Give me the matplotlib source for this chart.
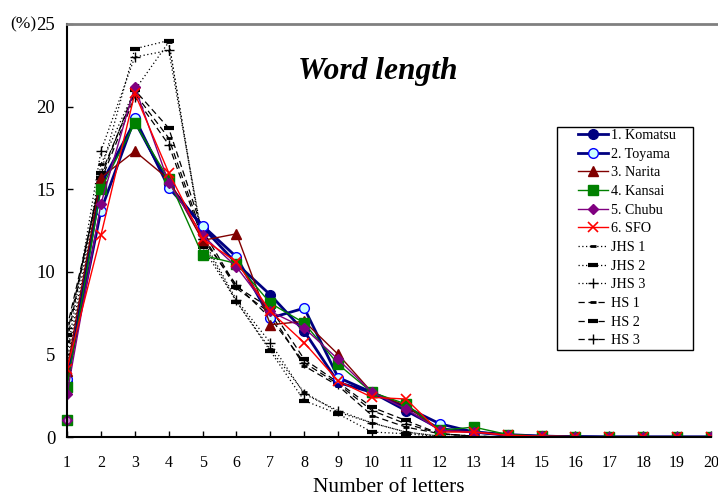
import matplotlib.pyplot as plt
import matplotlib
from matplotlib.patches import Rectangle
from matplotlib.lines import Line2D

matplotlib.rcParams['font.family'] = ['Liberation Serif', 'DejaVu Serif']

# 文字数 1-20
letters = list(range(1, 21))

# 空港データ (%)
komatsu = [3.3, 15.3, 19.1, 15.3, 12.7, 10.5, 8.6, 6.4, 3.3, 2.7, 1.6, 0.5, 0.3, 0.15, 0.05, 0.02, 0, 0, 0, 0]
toyama = [3.5, 13.7, 19.3, 15.1, 12.8, 10.9, 7.2, 7.8, 3.6, 2.7, 1.8, 0.8, 0.3, 0.1, 0.05, 0.02, 0, 0, 0, 0]
narita = [4.0, 15.7, 17.3, 15.6, 11.9, 12.3, 6.8, 7.0, 5.0, 2.7, 1.9, 0.4, 0.3, 0.15, 0.05, 0.02, 0, 0, 0, 0]
kansai = [3.0, 15.0, 19.0, 15.6, 11.0, 10.5, 8.1, 6.9, 4.4, 2.7, 2.0, 0.4, 0.6, 0.15, 0.05, 0.02, 0, 0, 0, 0]
chubu = [2.6, 14.1, 21.2, 15.4, 12.2, 10.3, 7.6, 6.6, 4.7, 2.7, 1.7, 0.4, 0.3, 0.1, 0.05, 0.02, 0, 0, 0, 0]
sfo = [4.1, 12.2, 20.8, 16.0, 12.0, 10.6, 7.6, 5.7, 3.4, 2.4, 2.3, 0.3, 0.3, 0.1, 0.05, 0.02, 0, 0, 0, 0]

# 学生データ (%)
jhs1 = [4.5, 16.5, 21.0, 23.9, 11.8, 8.2, 5.3, 2.7, 1.5, 0.85, 0.3, 0.05, 0, 0, 0, 0, 0, 0, 0, 0]
jhs2 = [4.1, 16.0, 23.5, 24.0, 11.5, 8.2, 5.2, 2.2, 1.4, 0.3, 0.2, 0.02, 0, 0, 0, 0, 0, 0, 0, 0]
jhs3 = [5.0, 17.3, 23.0, 23.4, 12.0, 8.3, 5.7, 2.6, 1.6, 0.85, 0.3, 0.05, 0, 0, 0, 0, 0, 0, 0, 0]
hs1 = [5.8, 15.9, 20.8, 18.1, 12.2, 9.0, 7.5, 4.3, 3.1, 1.3, 0.6, 0.2, 0.05, 0, 0, 0, 0, 0, 0, 0]
hs2 = [6.2, 15.7, 21.0, 18.7, 12.5, 9.1, 7.8, 4.7, 3.3, 1.8, 1.0, 0.2, 0.05, 0, 0, 0, 0, 0, 0, 0]
hs3 = [6.6, 15.5, 20.6, 17.7, 12.0, 9.2, 7.2, 4.5, 3.2, 1.6, 0.8, 0.2, 0.05, 0, 0, 0, 0, 0, 0, 0]

# x=1 付近に重なった点
stray_value = 1.0

fig = plt.figure(figsize=(7.18, 4.97), dpi=100)
ax = fig.add_axes([67 / 718, 1 - 437 / 497, 644 / 718, 413 / 497])

# 黒の系列
ax.plot(letters, jhs1, ls=(0, (1, 2)), color='black', lw=0.9, marker='_', ms=5, mew=2, label='JHS 1')
ax.plot(letters, jhs2, ls=(0, (1, 2)), color='black', lw=0.9, marker='_', ms=7, mew=3, label='JHS 2')
ax.plot(letters, jhs3, ls=(0, (1, 2)), color='black', lw=0.9, marker='+', ms=7, mew=1, label='JHS 3')
ax.plot(letters, hs1, ls=(0, (5, 3)), color='black', lw=0.9, marker='_', ms=5, mew=2, label='HS 1')
ax.plot(letters, hs2, ls=(0, (5, 3)), color='black', lw=0.9, marker='_', ms=7, mew=3, label='HS 2')
ax.plot(letters, hs3, ls=(0, (5, 3)), color='black', lw=0.9, marker='+', ms=7, mew=1, label='HS 3')

# 空港の系列
ax.plot(letters, komatsu, color='#000080', lw=2, marker='o', ms=7, mfc='#000080', mec='#000080', label='1. Komatsu')
ax.plot(letters, toyama, color='#000080', lw=2, marker='o', ms=7, mfc='#ccffff', mec='#0000ff', label='2. Toyama')
ax.plot(letters, narita, color='#800000', lw=1, marker='^', ms=7, mfc='#800000', mec='#800000', label='3. Narita')
ax.plot(letters, kansai, color='#008000', lw=1, marker='s', ms=6.5, mfc='#008000', mec='#008000', label='4. Kansai')
ax.plot(letters, chubu, color='#800080', lw=1, marker='D', ms=5.5, mfc='#800080', mec='#800080', label='5. Chubu')
ax.plot(letters, sfo, color='#ff0000', lw=1, marker='x', ms=7, mew=1.2, label='6. SFO')

# 重なった点
ax.plot(letters[0], stray_value, marker='s', ms=6.5, color='#008000', ls='none', clip_on=False)
ax.plot(letters[0], stray_value, marker='D', ms=5, color='#800080', ls='none', clip_on=False)
ax.plot(letters[0], stray_value, marker='o', ms=3, color='#cc88cc', ls='none', clip_on=False)

ax.set_xlim(1, 20)
ax.set_ylim(0, 25)
ax.set_xticks(letters)
ax.set_yticks([0, 5, 10, 15, 20, 25])
ax.tick_params(axis='both', direction='in', length=4, width=1)
ax.tick_params(axis='x', labelsize=11.5, pad=13)
ax.tick_params(axis='y', labelsize=13.5, pad=8.5)
ax.spines['top'].set_visible(False)
ax.spines['right'].set_visible(False)
for s in ['left', 'bottom']:
    ax.spines[s].set_linewidth(1.5)
fig.add_artist(Line2D([67 / 718, 1.0], [1 - 24 / 497] * 2, color='#808080', lw=2))

ax.set_xlabel('Number of letters', fontsize=15.4, labelpad=5)
fig.text(10 / 718, 1 - 24 / 497, '(%)', fontsize=12.5, va='center', ha='left')

ax.text(0.483, 0.886, 'Word length', transform=ax.transAxes, ha='center', va='center',
        fontsize=22.7, fontweight='bold', fontstyle='italic')

# 凡例の枠
fig.add_artist(Rectangle((557 / 718, 1 - 350 / 497), 136 / 718, 223 / 497, transform=fig.transFigure,
                         fill=True, facecolor='white', edgecolor='black', lw=1, zorder=5))

handles, labels = ax.get_legend_handles_labels()
order = [6, 7, 8, 9, 10, 11, 0, 1, 2, 3, 4, 5]
leg = fig.legend([handles[i] for i in order], [labels[i] for i in order],
                 loc='upper left', bbox_to_anchor=(578 / 718, 1 - 129 / 497), fontsize=10.2,
                 frameon=False, handlelength=2.15, labelspacing=0.4, borderpad=0,
                 handletextpad=0.15, borderaxespad=0)
leg.set_zorder(6)

fig.savefig('out.png', dpi=100)
